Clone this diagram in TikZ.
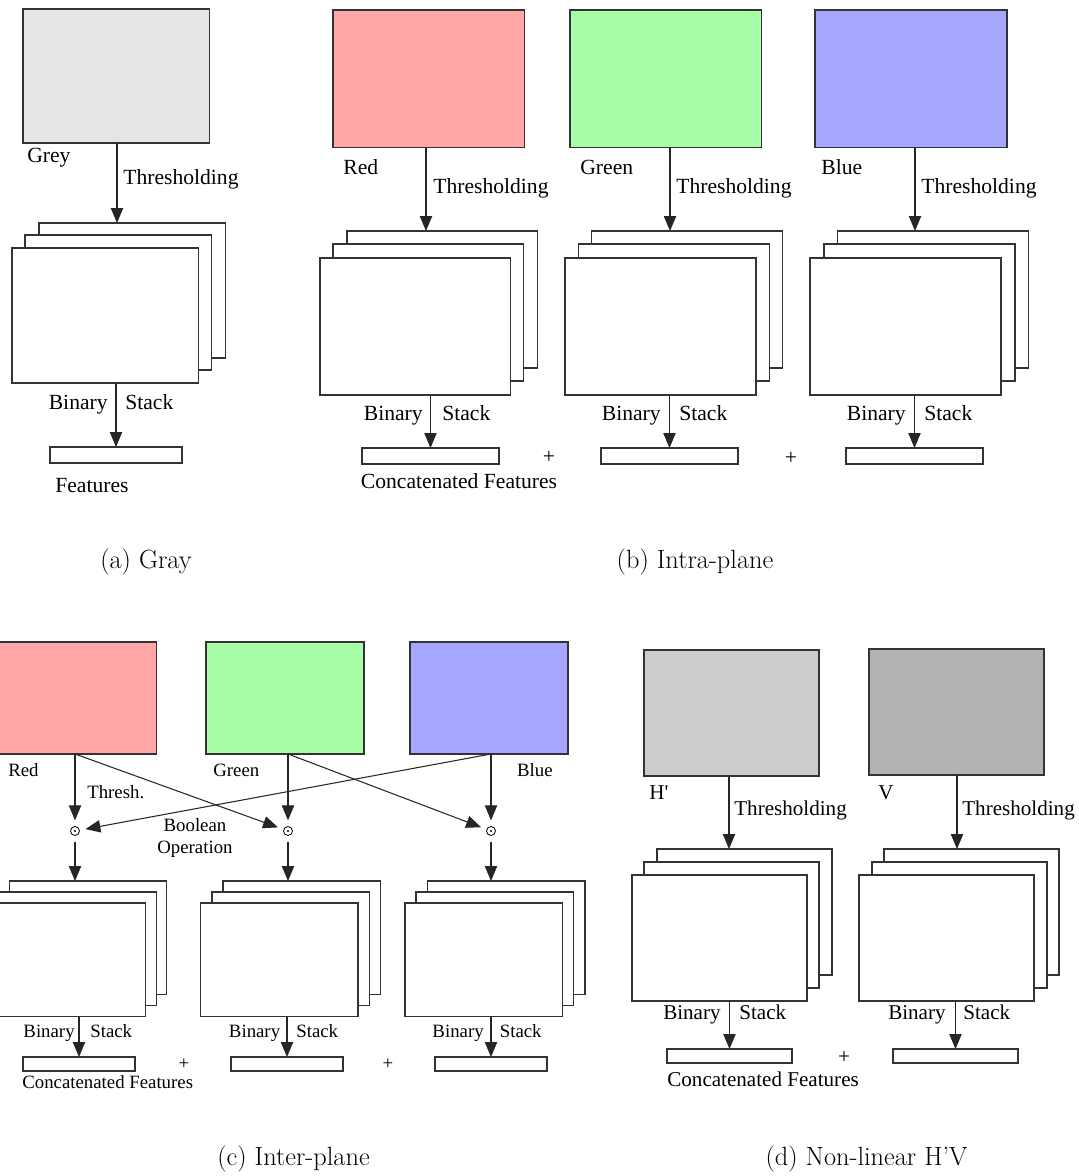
\documentclass[tikz,border=0pt]{standalone}
\usepackage{fontspec}
\newfontfamily\tms{Liberation Serif}
\usepackage{tikz}
\usetikzlibrary{arrows.meta}
\definecolor{greyplane}{HTML}{E5E5E5}
\definecolor{redplane}{HTML}{FFA6A6}
\definecolor{greenplane}{HTML}{A6FFA6}
\definecolor{blueplane}{HTML}{A6A6FF}
\definecolor{hplane}{HTML}{CCCCCC}
\definecolor{vplane}{HTML}{B3B3B3}
\definecolor{edge}{HTML}{333333}

\begin{document}
\begin{tikzpicture}[x=0.02cm, y=-0.02cm, >={Triangle[length=8.5pt,width=7pt]},
    box/.style={draw=edge, line width=0.6pt, inner sep=0pt, outer sep=0pt, anchor=north west},
    sheet/.style={box, fill=white},
    plane a/.style={box, minimum width=3.74cm, minimum height=2.68cm},
    plane b/.style={box, minimum width=3.84cm, minimum height=2.76cm},
    plane c/.style={box, minimum width=3.16cm, minimum height=2.24cm},
    plane d/.style={box, minimum width=3.5cm, minimum height=2.52cm},
    sheet a/.style={sheet, minimum width=3.74cm, minimum height=2.7cm},
    sheet b/.style={sheet, minimum width=3.82cm, minimum height=2.74cm},
    sheet c/.style={sheet, minimum width=3.15cm, minimum height=2.27cm},
    sheet d/.style={sheet, minimum width=3.5cm, minimum height=2.52cm},
    feat a/.style={sheet, minimum width=2.64cm, minimum height=0.32cm},
    feat b/.style={sheet, minimum width=2.74cm, minimum height=0.32cm},
    feat c/.style={sheet, minimum width=2.24cm, minimum height=0.28cm},
    feat d/.style={sheet, minimum width=2.5cm, minimum height=0.28cm},
    lbl/.style={inner sep=0pt, font=\tms\fontsize{12.3}{14}\selectfont},
    lblc/.style={inner sep=0pt, font=\tms\fontsize{10.7}{12.5}\selectfont},
    lbld/.style={inner sep=0pt, font=\tms\fontsize{12}{14}\selectfont},
    subcap/.style={inner sep=0pt, font=\fontsize{15}{18}\selectfont},
    arr/.style={->, line width=0.6pt, draw=black!85},
    bop/.style={circle, draw, line width=0.45pt, minimum size=0.18cm, inner sep=0pt, outer sep=3.5pt,
      path picture={\fill (path picture bounding box.center) circle (0.6pt);}}]
  \useasboundingbox (0,0) rectangle (1078,1176);

  % (a) grey image
  \coordinate (xa) at (117,0);
  \node[plane a, fill=greyplane] (grey) at (23,9) {};
  \node[lbl, anchor=base west] (greyname) at (27,162) {Grey};
  \node[lbl, anchor=base west] (greythr) at (123,184) {Thresholding};
  \node[sheet a] (greys3) at (39,223) {};
  \node[sheet a] (greys2) at (25,235) {};
  \node[sheet a] (greys1) at (12,248) {};
  \node[feat a] (greyfeat) at (50,447) {};
  \node[lbl, anchor=base east] (greybin) at (108,409) {Binary};
  \node[lbl, anchor=base west] (greystk) at (125,409) {Stack};
  \node[lbl, anchor=base west] (greyfl) at (55,492) {Features};
  \draw[arr] (grey.south -| xa) -- (greys3.north -| xa);
  \draw[arr] (greys1.south -| greyfeat.north) -- (greyfeat.north);
  \node[subcap] (capa) at (146,562) {(a) Gray};

  % (b) one stack per colour plane
  \coordinate (xr) at (426,0);
  \node[plane b, fill=redplane] (red) at (333,10) {};
  \node[lbl, anchor=base west] (redname) at (343,174) {Red};
  \node[lbl, anchor=base west] (redthr) at (433,193) {Thresholding};
  \node[sheet b] (reds3) at (347,231) {};
  \node[sheet b] (reds2) at (333,244) {};
  \node[sheet b] (reds1) at (320,258) {};
  \node[feat b] (redfeat) at (362,448) {};
  \node[lbl, anchor=base east] (redbin) at (423,420) {Binary};
  \node[lbl, anchor=base west] (redstk) at (442,420) {Stack};
  \node[lbl, anchor=base] (redfl) at (459,488) {Concatenated Features};
  \node[lbl] (plusb1) at (549,457) {+};
  \draw[arr] (red.south -| xr) -- (reds3.north -| xr);
  \draw[arr] (reds1.south -| redfeat.north) -- (redfeat.north);

  \coordinate (xg) at (670,0);
  \node[plane b, fill=greenplane] (green) at (570,10) {};
  \node[lbl, anchor=base west] (greenname) at (580,174) {Green};
  \node[lbl, anchor=base west] (greenthr) at (676,193) {Thresholding};
  \node[sheet b] (greens3) at (591.5,231) {};
  \node[sheet b] (greens2) at (578.5,244) {};
  \node[sheet b] (greens1) at (565,258) {};
  \node[feat b] (greenfeat) at (601,448) {};
  \node[lbl, anchor=base east] (greenbin) at (661,420) {Binary};
  \node[lbl, anchor=base west] (greenstk) at (679,420) {Stack};
  \node[lbl] (plusb2) at (791,458) {+};
  \draw[arr] (green.south -| xg) -- (greens3.north -| xg);
  \draw[arr] (greens1.south -| greenfeat.north) -- (greenfeat.north);

  \coordinate (xb) at (915,0);
  \node[plane b, fill=blueplane] (blue) at (815,10) {};
  \node[lbl, anchor=base west] (bluename) at (821,174) {Blue};
  \node[lbl, anchor=base west] (bluethr) at (921,193) {Thresholding};
  \node[sheet b] (blues3) at (837.5,231) {};
  \node[sheet b] (blues2) at (824,244) {};
  \node[sheet b] (blues1) at (810,258) {};
  \node[feat b] (bluefeat) at (846,448) {};
  \node[lbl, anchor=base east] (bluebin) at (906,420) {Binary};
  \node[lbl, anchor=base west] (bluestk) at (924,420) {Stack};
  \draw[arr] (blue.south -| xb) -- (blues3.north -| xb);
  \draw[arr] (blues1.south -| bluefeat.north) -- (bluefeat.north);
  \node[subcap] (capb) at (695,562) {(b) Intra-plane};

  % (c) planes crossed by a boolean operation
  \node[plane c, fill=redplane] (cred) at (-1,642) {};
  \node[plane c, fill=greenplane] (cgreen) at (206,642) {};
  \node[plane c, fill=blueplane] (cblue) at (410,642) {};
  \node[lblc, anchor=base west] (credname) at (8,776) {Red};
  \node[lblc, anchor=base west] (cgreenname) at (213,776) {Green};
  \node[lblc, anchor=base east] (cbluename) at (553,776) {Blue};
  \node[lblc, anchor=base west] (cthr) at (87,798) {Thresh.};
  \node[lblc, anchor=north, align=center] (cbool) at (195,818) {Boolean\\Operation};
  \node[bop] (bopr) at (75,831) {};
  \node[bop] (bopg) at (288,831) {};
  \node[bop] (bopb) at (491,831) {};
  \draw[arr] (cred.south -| bopr) -- (bopr);
  \draw[arr] (cred.south -| bopr) -- (bopg);
  \draw[arr] (cgreen.south -| bopg) -- (bopg);
  \draw[arr] (cgreen.south -| bopg) -- (bopb);
  \draw[arr] (cblue.south -| bopb) -- (bopb);
  \draw[arr] (cblue.south -| bopb) -- (bopr);

  \node[sheet c] (creds3) at (9.5,881) {};
  \node[sheet c] (creds2) at (-1,892) {};
  \node[sheet c] (creds1) at (-12,903) {};
  \node[sheet c] (cgreens3) at (223,881) {};
  \node[sheet c] (cgreens2) at (212,892) {};
  \node[sheet c] (cgreens1) at (200.5,903) {};
  \node[sheet c] (cblues3) at (427.5,881) {};
  \node[sheet c] (cblues2) at (416,892) {};
  \node[sheet c] (cblues1) at (405,903) {};
  \draw[arr] (bopr) -- (creds3.north -| bopr);
  \draw[arr] (bopg) -- (cgreens3.north -| bopg);
  \draw[arr] (bopb) -- (cblues3.north -| bopb);

  \node[feat c] (credfeat) at (23,1057) {};
  \node[feat c] (cgreenfeat) at (231,1057) {};
  \node[feat c] (cbluefeat) at (435,1057) {};
  \draw[arr] (creds1.south -| credfeat.north) -- (credfeat.north);
  \draw[arr] (cgreens1.south -| cgreenfeat.north) -- (cgreenfeat.north);
  \draw[arr] (cblues1.south -| cbluefeat.north) -- (cbluefeat.north);
  \node[lblc, anchor=base east] (credbin) at (75,1037) {Binary};
  \node[lblc, anchor=base west] (credstk) at (90,1037) {Stack};
  \node[lblc, anchor=base east] (cgreenbin) at (280.5,1037) {Binary};
  \node[lblc, anchor=base west] (cgreenstk) at (296,1037) {Stack};
  \node[lblc, anchor=base east] (cbluebin) at (484,1037) {Binary};
  \node[lblc, anchor=base west] (cbluestk) at (499.5,1037) {Stack};
  \node[lblc, anchor=base west] (cfl) at (22,1088) {Concatenated Features};
  \node[lblc] (plusc1) at (184,1064) {+};
  \node[lblc] (plusc2) at (388,1064) {+};
  \node[subcap] (capc) at (293.5,1159) {(c) Inter-plane};

  % (d) H' and V planes
  \coordinate (xh) at (729,0);
  \coordinate (xv) at (957,0);
  \node[plane d, fill=hplane] (hp) at (644,650) {};
  \node[plane d, fill=vplane] (vp) at (869,649) {};
  \node[lbld, anchor=base west] (hpname) at (649,799) {H\textquotesingle};
  \node[lbld, anchor=base west] (vpname) at (878,799) {V};
  \node[lbld, anchor=base west] (hpthr) at (734,815) {Thresholding};
  \node[lbld, anchor=base west] (vpthr) at (962,815) {Thresholding};
  \node[sheet d] (hps3) at (657,849) {};
  \node[sheet d] (hps2) at (644,862) {};
  \node[sheet d] (hps1) at (632,875) {};
  \node[sheet d] (vps3) at (884,849) {};
  \node[sheet d] (vps2) at (872,862) {};
  \node[sheet d] (vps1) at (859,875) {};
  \draw[arr] (hp.south -| xh) -- (hps3.north -| xh);
  \draw[arr] (vp.south -| xv) -- (vps3.north -| xv);
  \node[feat d] (hpfeat) at (667,1049) {};
  \node[feat d] (vpfeat) at (893,1049) {};
  \draw[arr] (hps1.south -| hpfeat.north) -- (hpfeat.north);
  \draw[arr] (vps1.south -| vpfeat.north) -- (vpfeat.north);
  \node[lbld, anchor=base east] (hpbin) at (721,1019) {Binary};
  \node[lbld, anchor=base west] (hpstk) at (739,1019) {Stack};
  \node[lbld, anchor=base east] (vpbin) at (946,1019) {Binary};
  \node[lbld, anchor=base west] (vpstk) at (963,1019) {Stack};
  \node[lbld, anchor=base west] (dfl) at (667,1086) {Concatenated Features};
  \node[lbld] (plusd) at (844,1058) {+};
  \node[subcap] (capd) at (866.5,1159) {(d) Non-linear H'V};
\end{tikzpicture}
\end{document}
